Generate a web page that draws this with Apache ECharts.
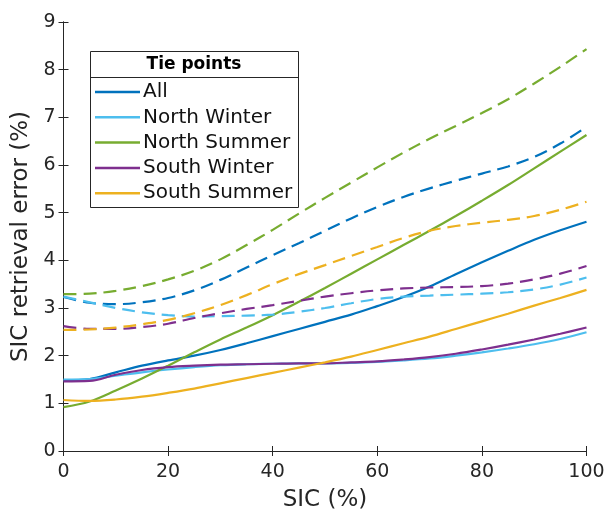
<!DOCTYPE html>
<html>
<head>
<meta charset="utf-8">
<script src="https://cdn.jsdelivr.net/npm/echarts@6/dist/echarts.min.js"></script>
<style>
html,body{margin:0;padding:0;background:#fff;}
#chart{width:607px;height:511px;}
</style>
</head>
<body>
<div id="chart"></div>
<script>
// SIC values (%)
const sic = [0,5,10,15,20,25,30,35,40,45,50,55,60,65,70,75,80,85,90,95,100];

// Solid lines
const allSolid         = [1.48,1.51,1.65,1.79,1.90,2.00,2.12,2.26,2.41,2.56,2.71,2.86,3.04,3.23,3.45,3.71,3.96,4.20,4.43,4.63,4.81];
const northWinterSolid = [1.50,1.51,1.58,1.65,1.71,1.76,1.80,1.82,1.83,1.84,1.84,1.85,1.87,1.90,1.94,2.00,2.07,2.15,2.24,2.35,2.49];
const northSummerSolid = [0.92,1.04,1.27,1.52,1.79,2.07,2.34,2.59,2.85,3.13,3.42,3.72,4.02,4.32,4.62,4.93,5.25,5.58,5.93,6.28,6.63];
const southWinterSolid = [1.46,1.47,1.60,1.70,1.76,1.79,1.81,1.82,1.83,1.84,1.84,1.86,1.88,1.92,1.97,2.04,2.13,2.23,2.34,2.46,2.59];
const southSummerSolid = [1.07,1.05,1.08,1.14,1.22,1.31,1.42,1.53,1.64,1.75,1.86,1.98,2.12,2.26,2.40,2.56,2.72,2.88,3.05,3.21,3.38];

// Dashed lines
const allDashed         = [3.23,3.11,3.08,3.12,3.21,3.37,3.59,3.85,4.11,4.36,4.62,4.88,5.12,5.33,5.51,5.67,5.82,5.97,6.17,6.45,6.80];
const northWinterDashed = [3.24,3.12,3.00,2.91,2.85,2.82,2.83,2.84,2.86,2.92,3.00,3.10,3.19,3.24,3.26,3.28,3.30,3.33,3.39,3.49,3.64];
const northSummerDashed = [3.29,3.30,3.36,3.46,3.60,3.78,4.02,4.32,4.64,4.98,5.31,5.63,5.95,6.26,6.55,6.82,7.09,7.38,7.71,8.06,8.43];
const southWinterDashed = [2.62,2.56,2.56,2.60,2.67,2.79,2.89,2.98,3.06,3.15,3.24,3.31,3.37,3.41,3.43,3.44,3.46,3.51,3.60,3.72,3.88];
const southSummerDashed = [2.54,2.55,2.59,2.66,2.75,2.89,3.06,3.27,3.50,3.71,3.90,4.09,4.28,4.47,4.62,4.72,4.79,4.85,4.93,5.06,5.23];

const legendNames = ['All','North Winter','North Summer','South Winter','South Summer'];
const colors = ['#0072BD','#4DBEEE','#77AC30','#7E2F8E','#EDB120'];
const xTicks = [0,20,40,60,80,100];
const yTicks = [0,1,2,3,4,5,6,7,8,9];

const solids = [allSolid,northWinterSolid,northSummerSolid,southWinterSolid,southSummerSolid];
const dashes = [allDashed,northWinterDashed,northSummerDashed,southWinterDashed,southSummerDashed];

function pairs(arr){ return sic.map((x,i)=>[x,arr[i]]); }

const FONT = 'DejaVu Sans';
const AX = '#262626';

const series = [];
solids.forEach((d,i)=>{
  series.push({
    name: legendNames[i], type:'line', data: pairs(d), smooth:0.35,
    showSymbol:false, symbol:'none', color: colors[i],
    lineStyle:{width:2.2, color:colors[i]}, xAxisIndex:0, yAxisIndex:0, z:3
  });
});
dashes.forEach((d,i)=>{
  series.push({
    name: legendNames[i] + ' (dashed)', type:'line', data: pairs(d), smooth:0.35,
    showSymbol:false, symbol:'none', color: colors[i],
    lineStyle:{width:2.2, color:colors[i], type:[13,7]}, xAxisIndex:0, yAxisIndex:0, z:3
  });
});

const option = {
  animation:false,
  backgroundColor:'#fff',
  grid: {left:63.5, right:20.5, top:22, bottom:60, containLabel:false, outerBoundsMode:'none'},
  xAxis: [{
    type:'value', min:0, max:100, interval:20,
    name:'SIC (%)', nameLocation:'middle', nameGap:38,
    nameTextStyle:{fontFamily:FONT, fontSize:23, color:AX},
    axisLine:{show:true, lineStyle:{color:AX, width:1}},
    axisTick:{show:true, inside:true, length:5, lineStyle:{color:AX}},
    axisLabel:{fontFamily:FONT, fontSize:19, color:AX, margin:12},
    splitLine:{show:false}
  },{
    type:'value', min:0, max:100, interval:20, position:'top',
    axisLine:{show:true, lineStyle:{color:AX, width:1}},
    axisTick:{show:true, inside:true, length:5, lineStyle:{color:AX}},
    axisLabel:{show:false}, splitLine:{show:false}
  }],
  yAxis: [{
    type:'value', min:0, max:9, interval:1,
    name:'SIC retrieval error (%)', nameLocation:'middle', nameGap:28,
    nameTextStyle:{fontFamily:FONT, fontSize:23, color:AX},
    axisLine:{show:true, lineStyle:{color:AX, width:1}},
    axisTick:{show:true, inside:true, length:5, lineStyle:{color:AX}},
    axisLabel:{fontFamily:FONT, fontSize:19, color:AX, margin:8},
    splitLine:{show:false}
  },{
    type:'value', min:0, max:9, interval:1, position:'right',
    axisLine:{show:true, lineStyle:{color:AX, width:1}},
    axisTick:{show:true, inside:true, length:5, lineStyle:{color:AX}},
    axisLabel:{show:false}, splitLine:{show:false}
  }],
  legend: {
    data: legendNames, orient:'vertical', left:95, top:82,
    icon:'rect', itemWidth:45, itemHeight:2.5, itemGap:5.3,
    textStyle:{fontFamily:FONT, fontSize:20, color:'#111', lineHeight:20, padding:[0,0,0,-2]},
    padding:0, selectedMode:false
  },
  graphic: [
    {type:'rect', shape:{x:90.5, y:51.5, width:208, height:156}, style:{fill:'#fff', stroke:AX, lineWidth:1}, z:1},
    {type:'line', shape:{x1:90.5, y1:77.5, x2:298.5, y2:77.5}, style:{stroke:AX, lineWidth:1}, z:2},
    {type:'text', x:194, y:64.5, style:{text:'Tie points', font:'bold 17px "DejaVu Sans"', fill:'#000', align:'center', verticalAlign:'middle'}, z:2}
  ],
  series: series
};

const chart = echarts.init(document.getElementById('chart'), null, {renderer:'canvas'});
chart.setOption(option);
</script>
</body>
</html>
